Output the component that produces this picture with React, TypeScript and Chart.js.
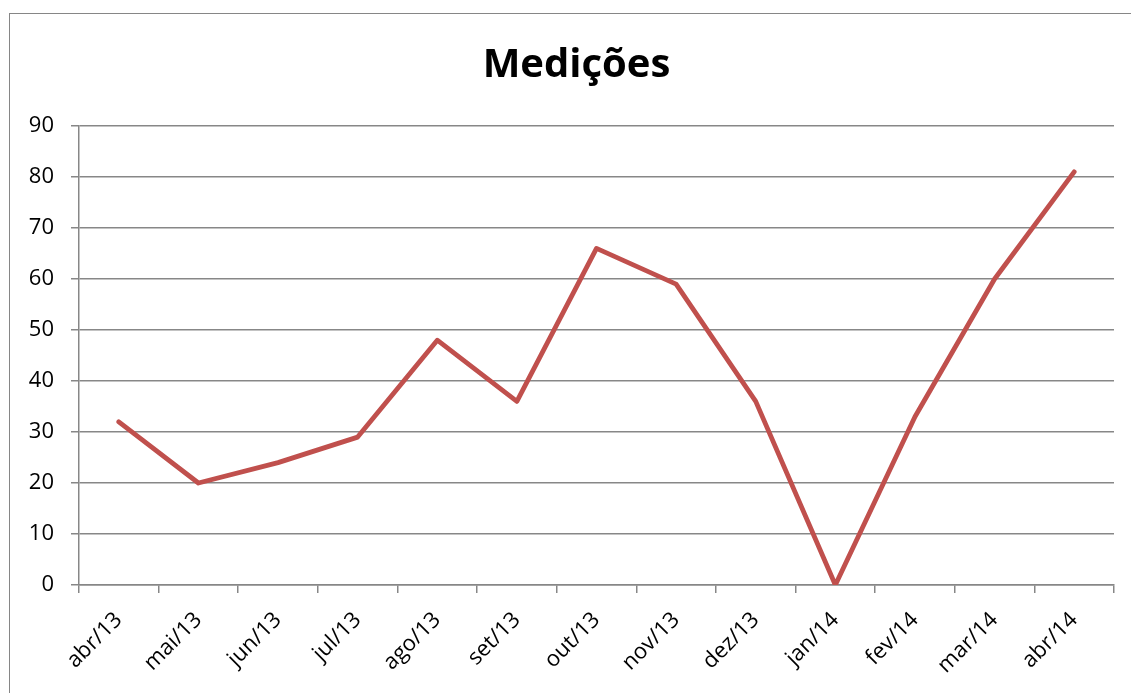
import React, { useEffect, useRef } from "react";
import { Chart, registerables } from "chart.js";

Chart.register(...registerables);

const title = "Medições";
const categories = [
  "abr/13", "mai/13", "jun/13", "jul/13", "ago/13", "set/13", "out/13",
  "nov/13", "dez/13", "jan/14", "fev/14", "mar/14", "abr/14",
];
const medicoes = [32, 20, 24, 29, 48, 36, 66, 59, 36, 0, 33, 60, 81];
const yMin = 0;
const yMax = 90;
const yStep = 10;

const FONT = "'Open Sans', 'Noto Sans', sans-serif";
const GRID = "#878787";

// lets the y tick labels draw into the layout padding on the left
const unclipYLabels = {
  id: "unclipYLabels",
  afterLayout(chart: any) {
    if (chart.scales.y) chart.scales.y.left = 0;
  },
};

export default function App() {
  const ref = useRef<HTMLCanvasElement | null>(null);

  useEffect(() => {
    if (!ref.current) return;
    const chart = new Chart(ref.current, {
      type: "line",
      data: {
        labels: categories,
        datasets: [
          {
            label: title,
            data: medicoes,
            borderColor: "#C0504D",
            backgroundColor: "#C0504D",
            borderWidth: 4.8,
            pointRadius: 0,
            pointHoverRadius: 0,
            tension: 0,
            borderJoinStyle: "round",
            borderCapStyle: "round",
            fill: false,
          },
        ],
      },
      plugins: [unclipYLabels],
      options: {
        animation: false,
        responsive: false,
        maintainAspectRatio: false,
        layout: { padding: { left: 29, right: 31, top: 0, bottom: 0 } },
        plugins: {
          legend: { display: false },
          tooltip: { enabled: false },
          title: {
            display: true,
            text: title,
            color: "#000",
            font: { family: FONT, size: 40, weight: "bold", lineHeight: 1.2 },
            padding: { top: 28, bottom: 36 },
          },
        },
        scales: {
          x: {
            type: "category",
            offset: true,
            afterFit: (scale: any) => {
              scale.height = 108;
            },
            grid: {
              offset: true,
              drawOnChartArea: false,
              drawTicks: true,
              tickLength: 8,
              color: GRID,
              lineWidth: 1.5,
            },
            border: { display: true, color: GRID, width: 1.5 },
            ticks: {
              autoSkip: false,
              minRotation: 45,
              maxRotation: 45,
              padding: 14,
              color: "#000",
              font: { family: FONT, size: 22 },
            },
          },
          y: {
            min: yMin,
            max: yMax,
            afterFit: (scale: any) => {
              scale.width = 40;
            },
            grid: {
              drawTicks: true,
              tickLength: 8,
              color: GRID,
              lineWidth: 1.5,
            },
            border: { display: true, color: GRID, width: 1.5 },
            ticks: {
              stepSize: yStep,
              padding: 17,
              color: "#000",
              font: { family: FONT, size: 22 },
            },
          },
        },
      },
    });
    return () => chart.destroy();
  }, []);

  return (
    <div
      style={{
        position: "fixed",
        left: 0,
        top: 0,
        width: 1131,
        height: 693,
        overflow: "hidden",
        background: "#fff",
      }}
    >
      <div
        style={{
          position: "absolute",
          left: 9,
          top: 13,
          width: 1140,
          height: 700,
          borderLeft: "1px solid #868686",
          borderTop: "1px solid #868686",
        }}
      >
        <canvas
          ref={ref}
          width={1135}
          height={679}
          style={{ position: "absolute", left: 0, top: 0, width: 1135, height: 679 }}
        />
      </div>
    </div>
  );
}
